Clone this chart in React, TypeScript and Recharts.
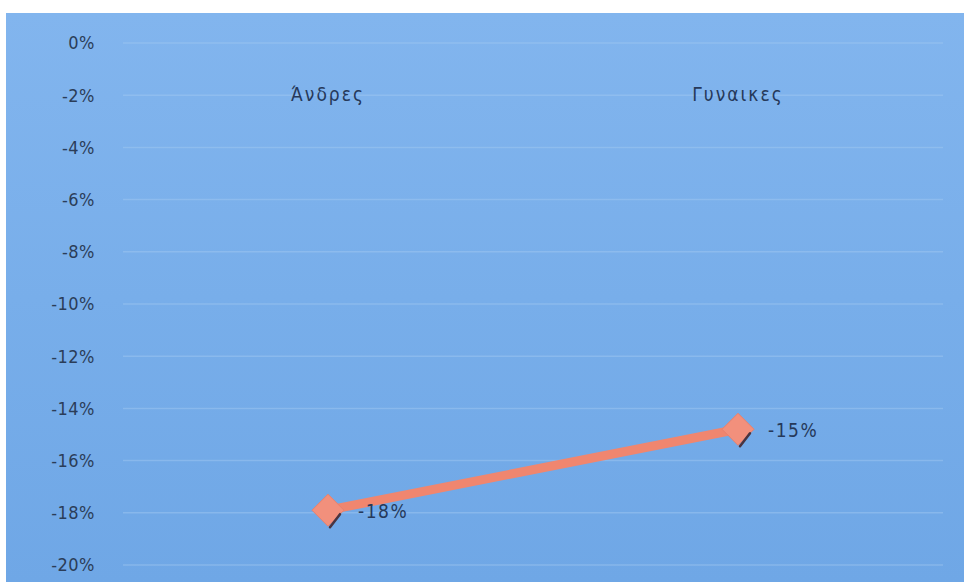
import React from "react";
import { LineChart, Line, XAxis, YAxis, CartesianGrid, LabelList } from "recharts";

const categories = ["Άνδρες", "Γυναικες"];
const values = [-0.179, -0.148];
const yTicks = [0, -0.02, -0.04, -0.06, -0.08, -0.1, -0.12, -0.14, -0.16, -0.18, -0.2];

const data = categories.map((c, i) => ({ name: c, v: values[i] }));

const pct = (v: number) => `${Math.round(v * 100)}%`;

const FONT = "'DejaVu Sans Condensed', 'Open Sans', sans-serif";

const Diamond = (props: any) => {
  const { cx, cy } = props;
  if (cx == null || cy == null) return null;
  const r = 16;
  return (
    <g>
      <polygon
        points={`${cx},${cy - r} ${cx + r},${cy} ${cx},${cy + r} ${cx - r},${cy}`}
        fill="#f2907c"
        stroke="#e9806c"
        strokeWidth={1}
      />
      <line x1={cx + r - 4} y1={cy + 4} x2={cx + 2} y2={cy + r + 1} stroke="#4a3440" strokeWidth={2.5} strokeLinecap="round" />
    </g>
  );
};

const renderXTick = (props: any) => {
  const { x, payload } = props;
  return (
    <text x={x} y={101} textAnchor="middle" fontSize={19} letterSpacing={2} fill="#26395a" fontFamily={FONT}>
      {payload.value}
    </text>
  );
};

const ValueLabel = (props: any) => {
  const { x, y, value } = props;
  return (
    <text x={x + 30} y={y + 8} fontSize={19} letterSpacing={1.5} fill="#26395a" fontFamily={FONT}>
      {pct(value)}
    </text>
  );
};

export default function App() {
  return (
    <div style={{ position: "absolute", left: 0, top: 0, width: 964, height: 582, background: "#ffffff" }}>
      <div
        style={{
          position: "absolute",
          left: 6,
          top: 13,
          width: 958,
          height: 569,
          background: "linear-gradient(180deg, #82b5ee 0%, #78aeea 50%, #6fa7e6 100%)",
        }}
      />
      <div style={{ position: "absolute", left: 0, top: 0 }}>
        <LineChart width={964} height={582} data={data} margin={{ top: 13, right: 21, bottom: 17, left: 0 }}>
          <CartesianGrid vertical={false} horizontal={true} stroke="#a4c9f2" strokeOpacity={0.45} strokeWidth={1.5} />
          <XAxis
            dataKey="name"
            orientation="top"
            height={30}
            axisLine={false}
            tickLine={false}
            tick={renderXTick}
            padding={{ left: 205, right: 205 }}
            interval={0}
          />
          <YAxis
            domain={[-0.2, 0]}
            ticks={yTicks}
            tickFormatter={pct}
            width={123}
            axisLine={false}
            tickLine={false}
            tick={{ fontSize: 18, letterSpacing: 0.5, fill: "#2b3d58", fontFamily: FONT, dx: -20 }}
            interval={0}
          />
          <Line
            dataKey="v"
            stroke="#f0866f"
            strokeWidth={9}
            dot={<Diamond />}
            activeDot={false}
            isAnimationActive={false}
          >
            <LabelList dataKey="v" content={<ValueLabel />} />
          </Line>
        </LineChart>
      </div>
    </div>
  );
}
